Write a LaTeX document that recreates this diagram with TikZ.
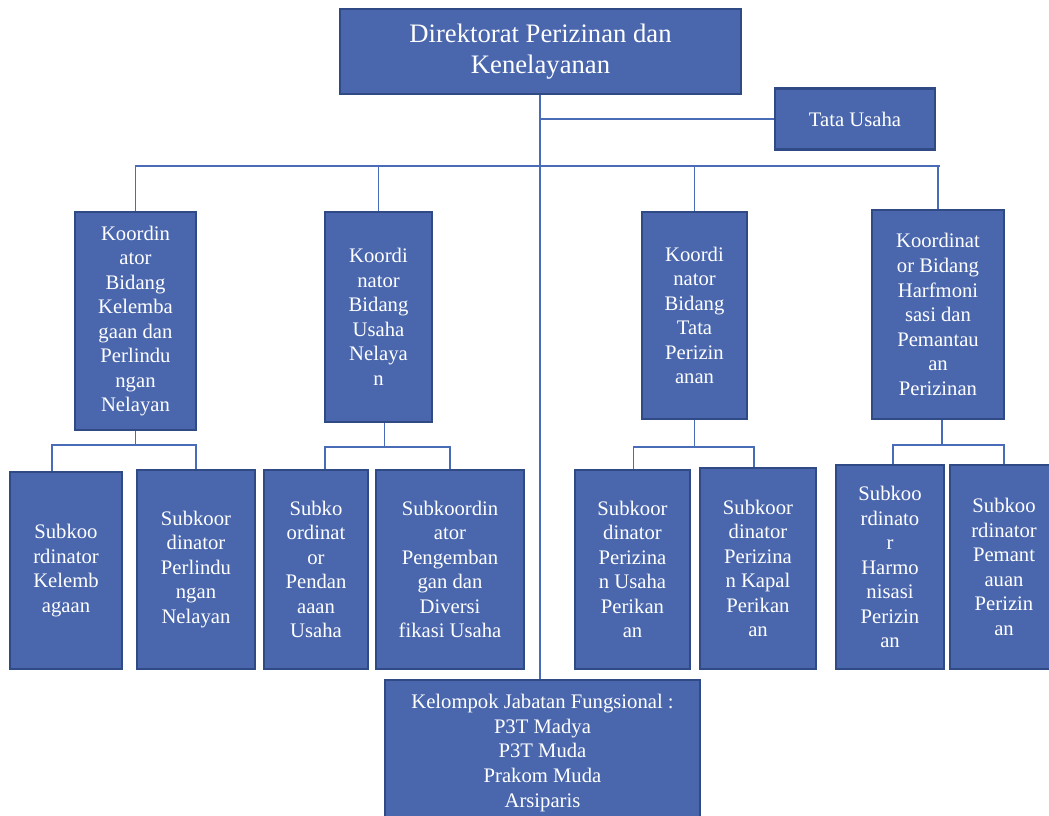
\documentclass[tikz,border=0pt]{standalone}
\usepackage{fontspec}
\setmainfont{Liberation Serif}
\definecolor{boxfill}{HTML}{4A67AE}
\definecolor{boxline}{HTML}{2F4A85}
\definecolor{conn}{HTML}{4A6CB8}
\begin{document}
\begin{tikzpicture}[x=0.75pt,y=-0.75pt,
  box/.style={draw=boxline, line width=1.9pt, fill=boxfill, text=white, align=center, inner sep=0pt,
    font=\fontsize{15.5}{18.4}\selectfont},
  pbox/.style 2 args={box, minimum width=#1*0.75pt, minimum height=#2*0.75pt},
  link/.style={draw=conn, line width=0.9pt}]
\useasboundingbox (0,0) rectangle (1049,816);

% top
\node[pbox={401}{85}, font=\fontsize{20}{23.2}\selectfont] (dir) at (540.5,51.5) {Direktorat Perizinan dan\\Kenelayanan};
\node[pbox={160}{61}] (tu) at (855,119) {Tata Usaha};

% coordinators
\node[pbox={121}{218}] (k1) at (135.5,321) {Koordin\\ator\\Bidang\\Kelemba\\gaan dan\\Perlindu\\ngan\\Nelayan};
\node[pbox={107}{210}] (k2) at (378.5,317) {Koordi\\nator\\Bidang\\Usaha\\Nelaya\\n};
\node[pbox={105}{207}] (k3) at (694.5,315.5) {Koordi\\nator\\Bidang\\Tata\\Perizin\\anan};
\node[pbox={132}{209}] (k4) at (938,314.5) {Koordinat\\or Bidang\\Harfmoni\\sasi dan\\Pemantau\\an\\Perizinan};

% sub-coordinators
\node[pbox={112}{197}] (s1) at (66,570.5) {Subkoo\\rdinator\\Kelemb\\agaan};
\node[pbox={118}{199}] (s2) at (196,569.5) {Subkoor\\dinator\\Perlindu\\ngan\\Nelayan};
\node[pbox={104}{199}] (s3) at (316,569.5) {Subko\\ordinat\\or\\Pendan\\aaan\\Usaha};
\node[pbox={148}{199}] (s4) at (450,569.5) {Subkoordin\\ator\\Pengemban\\gan dan\\Diversi\\fikasi Usaha};
\node[pbox={115}{199}] (s5) at (632.5,569.5) {Subkoor\\dinator\\Perizina\\n Usaha\\Perikan\\an};
\node[pbox={116}{201}] (s6) at (758,568.5) {Subkoor\\dinator\\Perizina\\n Kapal\\Perikan\\an};
\node[pbox={108}{204}] (s7) at (890,567) {Subkoo\\rdinato\\r\\Harmo\\nisasi\\Perizin\\an};
\node[pbox={108}{204}] (s8) at (1004,567) {Subkoo\\rdinator\\Pemant\\auan\\Perizin\\an};

% functional group
\node[pbox={315}{146}] (kel) at (542.5,753) {Kelompok Jabatan Fungsional :\\P3T Madya\\P3T Muda\\Prakom Muda\\Arsiparis};

% connectors
\coordinate (bus) at (540,166);
\coordinate (b1) at (135,445);
\coordinate (b2) at (384,447);
\coordinate (b3) at (695,447);
\coordinate (b4) at (942,445);

\draw[link] ([xshift=-0.375pt]dir.south) -- ([xshift=-0.375pt]dir.south |- kel.north);
\draw[link] (tu.west -| dir.south) -- (tu.west);
\draw[link] (k1.north) -- (k1.north |- bus) -- ([xshift=1.5pt]k4.north |- bus);
\draw[link] (k4.north) -- (k4.north |- bus);
\draw[link] (k2.north) -- (k2.north |- bus);
\draw[link] (k3.north) -- (k3.north |- bus);

\draw[link] (k1.south) -- (k1.south |- b1);
\draw[link] ([xshift=-10.5pt]s1.north) -- ([xshift=-10.5pt]s1.north |- b1) -- (s2.north |- b1) -- (s2.north);

\draw[link] ([xshift=4.5pt]k2.south) -- ([xshift=4.5pt]k2.south |- b2);
\draw[link] ([xshift=6.75pt]s3.north) -- ([xshift=6.75pt]s3.north |- b2) -- (s4.north |- b2) -- (s4.north);

\draw[link] (k3.south) -- (k3.south |- b3);
\draw[link] ([xshift=1pt]s5.north) -- ([xshift=1pt]s5.north |- b3) -- ([xshift=-3pt]s6.north |- b3) -- ([xshift=-3pt]s6.north);

\draw[link] ([xshift=3pt]k4.south) -- ([xshift=3pt]k4.south |- b4);
\draw[link] ([xshift=2.25pt]s7.north) -- ([xshift=2.25pt]s7.north |- b4) -- (s8.north |- b4) -- (s8.north);
\end{tikzpicture}
\end{document}
